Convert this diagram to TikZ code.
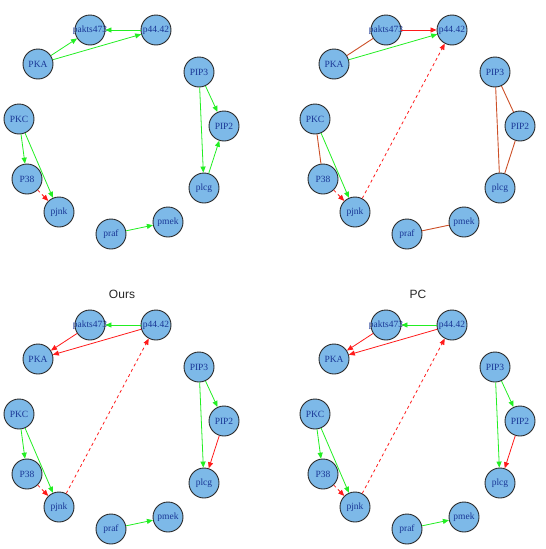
\documentclass[tikz,border=0pt]{standalone}
\usepackage{fontspec}
\setmainfont{Liberation Serif}
\newfontfamily\titlefont{Liberation Sans}
\usetikzlibrary{arrows.meta}
\definecolor{nodefill}{HTML}{7DB9E8}
\definecolor{nodetext}{HTML}{1A3796}
\definecolor{nodeline}{HTML}{2A2A2A}
\definecolor{egreen}{HTML}{22EE22}
\definecolor{ered}{HTML}{FF1A1A}
\definecolor{ebrown}{HTML}{CC5028}
\tikzset{
  vtx/.style={circle, draw=nodeline, line width=0.9pt, fill=nodefill, minimum size=30pt, inner sep=-3pt,
    text=nodetext, font=\fontsize{9.5}{10}\selectfont},
  tip/.style={-{Triangle[length=6pt,width=5pt]}},
  garr/.style={draw=egreen, line width=0.8pt, tip},
  rarr/.style={draw=ered, line width=0.8pt, tip},
  rdash/.style={draw=ered, line width=0.8pt, dash pattern=on 3pt off 3pt, tip},
  undir/.style={draw=ebrown, line width=0.9pt},
  ttl/.style={font=\titlefont\fontsize{12}{13}\selectfont, text=black!85}
}
\newcommand\drawpanel[3]{%
  \begin{scope}[shift={(#2,#3)}]
    \node[vtx] (#1akt) at (90,30) {pakts473};
    \node[vtx] (#1p44) at (156,30) {p44.42};
    \node[vtx] (#1pka) at (38,64) {PKA};
    \node[vtx] (#1pip3) at (199,72) {PIP3};
    \node[vtx] (#1pip2) at (224,126) {PIP2};
    \node[vtx] (#1pkc) at (19,119) {PKC};
    \node[vtx] (#1p38) at (27,179) {P38};
    \node[vtx] (#1pjnk) at (59,212) {pjnk};
    \node[vtx] (#1plcg) at (204,188) {plcg};
    \node[vtx] (#1praf) at (111,234) {praf};
    \node[vtx] (#1pmek) at (168,222) {pmek};
  \end{scope}}
\begin{document}
\begin{tikzpicture}[x=1pt,y=-1pt]
\useasboundingbox (0,0) rectangle (546,549);
% panel 1
\drawpanel{a}{0}{0}
\draw[garr] (apka) -- (aakt);
\draw[garr] (apka) -- (ap44);
\draw[garr] (ap44) -- (aakt);
\draw[garr] (apip3) -- (apip2);
\draw[garr] (apip3) -- (aplcg);
\draw[garr] (aplcg) -- (apip2);
\draw[garr] (apkc) -- (ap38);
\draw[garr] (apkc) -- (apjnk);
\draw[rdash] (ap38) -- (apjnk);
\draw[garr] (apraf) -- (apmek);
% panel 2
\drawpanel{b}{296}{0}
\draw[undir] (bpka) -- (bakt);
\draw[rarr] (bakt) -- (bp44);
\draw[garr] (bpka) -- (bp44);
\draw[rdash] (bpjnk) -- (bp44);
\draw[undir] (bpip3) -- (bpip2);
\draw[undir] (bpip3) -- (bplcg);
\draw[undir] (bpip2) -- (bplcg);
\draw[undir] (bpkc) -- (bp38);
\draw[garr] (bpkc) -- (bpjnk);
\draw[rdash] (bp38) -- (bpjnk);
\draw[undir] (bpraf) -- (bpmek);
% panel 3
\node[ttl] (t3) at (122,294) {Ours};
\drawpanel{c}{0}{295}
\draw[garr] (cp44) -- (cakt);
\draw[rarr] (cakt) -- (cpka);
\draw[rarr] (cp44) -- (cpka);
\draw[rdash] (cpjnk) -- (cp44);
\draw[garr] (cpip3) -- (cpip2);
\draw[garr] (cpip3) -- (cplcg);
\draw[rarr] (cpip2) -- (cplcg);
\draw[garr] (cpkc) -- (cp38);
\draw[garr] (cpkc) -- (cpjnk);
\draw[rdash] (cp38) -- (cpjnk);
\draw[garr] (cpraf) -- (cpmek);
% panel 4
\node[ttl] (t4) at (418,294) {PC};
\drawpanel{d}{296}{295}
\draw[garr] (dp44) -- (dakt);
\draw[rarr] (dakt) -- (dpka);
\draw[rarr] (dp44) -- (dpka);
\draw[rdash] (dpjnk) -- (dp44);
\draw[garr] (dpip3) -- (dpip2);
\draw[garr] (dpip3) -- (dplcg);
\draw[rarr] (dpip2) -- (dplcg);
\draw[garr] (dpkc) -- (dp38);
\draw[garr] (dpkc) -- (dpjnk);
\draw[rdash] (dp38) -- (dpjnk);
\draw[garr] (dpraf) -- (dpmek);
\end{tikzpicture}
\end{document}
